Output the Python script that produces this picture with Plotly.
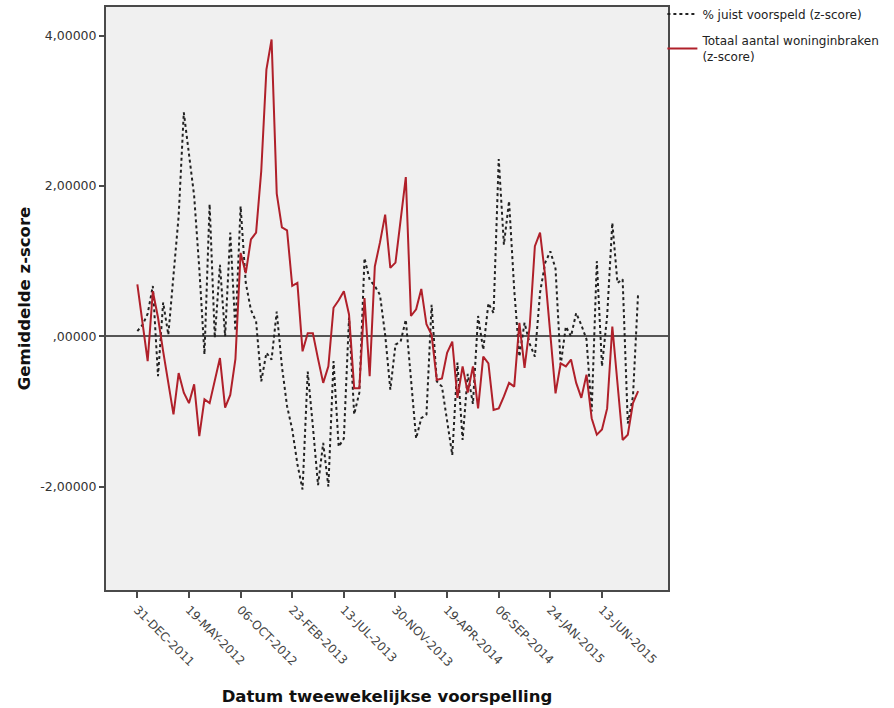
import pandas as pd
import plotly.graph_objects as go

# Biweekly forecast dates (every 14 days from 31-DEC-2011)
start_date = "2011-12-31"
n_periods = 98
dates = pd.date_range(start_date, periods=n_periods, freq="14D")

# % correctly predicted (z-score)
pct_correct_z = [
    0.07, 0.15, 0.30, 0.67, -0.53, 0.45, 0.02, 0.80, 1.60, 2.98,
    2.40, 1.87, 0.90, -0.24, 1.76, -0.02, 0.95, 0.00, 1.38, 0.07,
    1.73, 0.71, 0.35, 0.20, -0.60, -0.22, -0.31, 0.33, -0.40, -0.93,
    -1.24, -1.70, -2.04, -0.47, -1.20, -1.98, -1.42, -2.00, -0.33, -1.47,
    -1.36, 0.25, -1.04, -0.75, 1.04, 0.75, 0.67, 0.55, 0.02, -0.71,
    -0.11, -0.07, 0.22, -0.60, -1.36, -1.09, -1.04, 0.42, -0.60, -0.67,
    -1.10, -1.58, -0.35, -1.38, -0.50, -0.90, 0.27, -0.18, 0.44, 0.31,
    2.36, 1.22, 1.80, 0.62, -0.27, 0.18, -0.10, -0.27, 0.58, 0.98,
    1.13, 0.90, -0.38, 0.13, 0.00, 0.31, 0.15, -0.04, -1.00, 1.00,
    -0.40, 0.27, 1.51, 0.71, 0.76, -1.16, -0.80, 0.58,
]

# Total number of burglaries (z-score)
burglaries_z = [
    0.69, 0.20, -0.33, 0.60, 0.25, -0.20, -0.65, -1.04, -0.49, -0.75,
    -0.89, -0.64, -1.33, -0.84, -0.89, -0.60, -0.29, -0.95, -0.78, -0.30,
    1.11, 0.84, 1.29, 1.38, 2.20, 3.55, 3.95, 1.90, 1.45, 1.41,
    0.67, 0.71, -0.20, 0.04, 0.04, -0.30, -0.62, -0.40, 0.38, 0.48,
    0.60, 0.29, -0.69, -0.69, 0.51, -0.53, 0.93, 1.25, 1.62, 0.91,
    0.98, 1.55, 2.12, 0.27, 0.36, 0.63, 0.16, 0.02, -0.58, -0.56,
    -0.22, -0.07, -0.82, -0.40, -0.75, -0.40, -0.96, -0.27, -0.36, -0.98,
    -0.96, -0.80, -0.62, -0.67, 0.18, -0.42, 0.13, 1.20, 1.38, 0.80,
    0.00, -0.76, -0.36, -0.40, -0.31, -0.62, -0.82, -0.51, -1.09, -1.31,
    -1.24, -0.96, 0.13, -0.60, -1.38, -1.31, -0.89, -0.73,
]

y_tick_vals = [4, 2, 0, -2]
y_tick_text = ["4,00000", "2,00000", ",00000", "-2,00000"]

# x ticks every 10 periods
x_tick_vals = list(dates[::10])
x_tick_text = [d.strftime("%d-%b-%Y").upper() for d in x_tick_vals]

series_names = ["% juist voorspeld (z-score)", "Totaal aantal woninginbraken<br>(z-score)"]

font_family = "DejaVu Sans, Verdana, sans-serif"
frame_color = "#4a4a4a"

fig = go.Figure()
fig.add_trace(go.Scatter(
    x=dates, y=pct_correct_z, mode="lines", name=series_names[0],
    legendgroup="pct",
    line=dict(color="#222222", width=2, dash="dot"),
))
fig.add_trace(go.Scatter(
    x=dates, y=burglaries_z, mode="lines", name=series_names[1],
    legendgroup="burg",
    line=dict(color="#B0202A", width=2),
))

x_min = dates[0] - pd.Timedelta(days=85)
x_max = dates[0] + pd.Timedelta(days=1439)

fig.update_layout(
    width=894, height=708,
    margin=dict(l=106, r=226, t=7, b=118, autoexpand=False),
    paper_bgcolor="white",
    plot_bgcolor="#F0F0F0",
    font=dict(family=font_family, color="#333333", size=11),
    showlegend=True,
    legend=dict(
        x=0.99, y=1.013, xanchor="left", yanchor="top",
        bgcolor="rgba(0,0,0,0)", borderwidth=0,
        font=dict(size=12, color="#222222"),
        itemwidth=30, traceorder="grouped", tracegroupgap=8,
    ),
    xaxis=dict(
        range=[x_min, x_max],
        tickmode="array", tickvals=x_tick_vals, ticktext=x_tick_text,
        tickangle=45, ticks="outside", ticklen=6, tickcolor=frame_color,
        tickwidth=1.5,
        tickfont=dict(size=12, color="#444444"),
        showgrid=False, zeroline=False,
        showline=True, linecolor=frame_color, linewidth=2, mirror=True,
        title=dict(text="<b>Datum tweewekelijkse voorspelling</b>",
                   font=dict(size=16.5, color="#111111"), standoff=22),
    ),
    yaxis=dict(
        range=[-3.377, 4.383],
        tickmode="array", tickvals=y_tick_vals, ticktext=y_tick_text,
        ticks="outside", ticklen=5, tickcolor=frame_color, tickwidth=1.5,
        tickfont=dict(size=12.5, color="#333333"),
        showgrid=False,
        zeroline=True, zerolinecolor="#555555", zerolinewidth=1.5,
        showline=True, linecolor=frame_color, linewidth=2, mirror=True,
        title=dict(text="<b>Gemiddelde z-score</b>",
                   font=dict(size=16.5, color="#111111"), standoff=6),
    ),
)

fig.write_html("out.html")
